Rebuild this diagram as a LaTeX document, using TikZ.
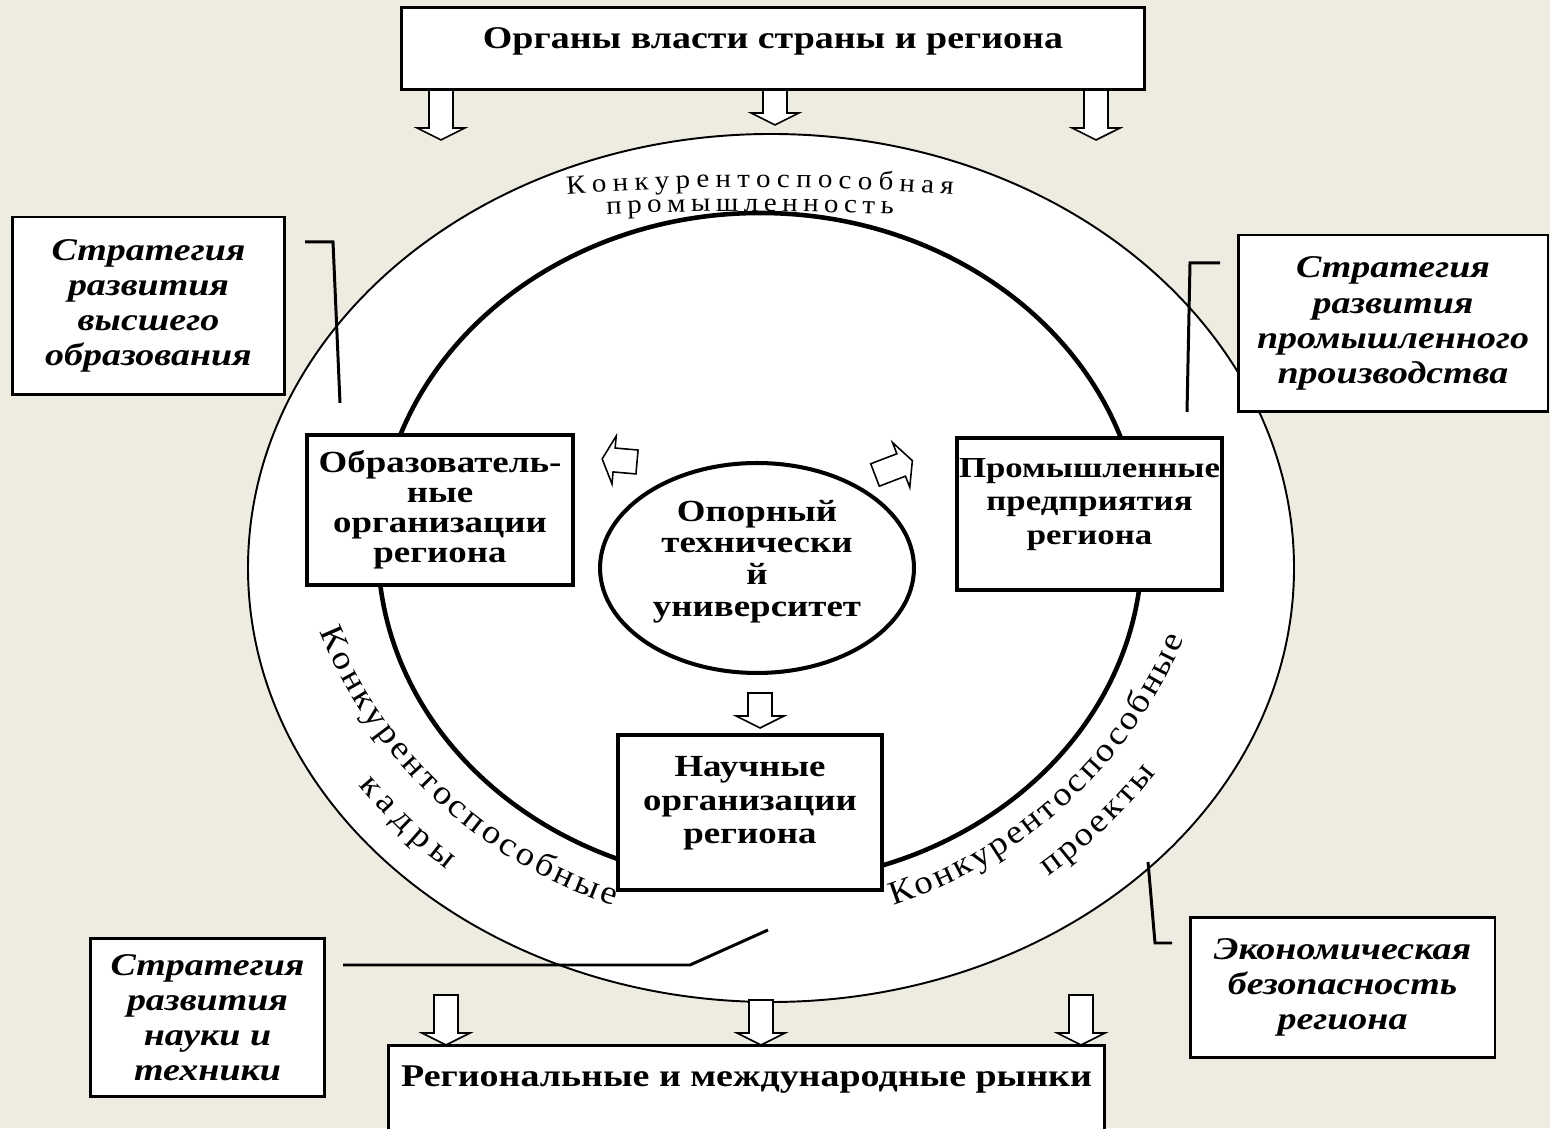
\documentclass[tikz,border=0pt]{standalone}
\usepackage{fontspec}
\setmainfont{Liberation Serif}
\newfontfamily\boxfont[FakeStretch=1.2]{Liberation Serif}
\newfontfamily\arcfont[FakeStretch=1.1]{Liberation Serif}
\newcommand\topfont{\arcfont\fontsize{15}{15}\selectfont}
\newcommand\sidefont{\arcfont\fontsize{19}{19}\selectfont}
\usetikzlibrary{shapes.geometric,decorations.text}
\definecolor{paper}{RGB}{238,236,225}

\begin{document}
\begin{tikzpicture}[x=0.02cm,y=0.02cm,
	box/.style={draw,fill=white,line width=2.3pt,inner sep=0pt,align=center,font=\boxfont\bfseries\fontsize{17.5}{17}\selectfont},
	strat/.style={draw,fill=white,line width=1.7pt,inner sep=0pt,align=center,font=\boxfont\bfseries\itshape\fontsize{18}{20}\selectfont},
	bar/.style={draw,fill=white,line width=1.7pt,inner sep=0pt,font=\boxfont\bfseries\fontsize{18}{20}\selectfont},
	link/.style={line width=1.7pt},
	curve/.style={decorate,decoration={text along path,text align={fit to path},text={#1}}},
	pics/blk/.style={code={\draw[line width=0.9pt,fill=white] (0,-12) -- (#1-12,-12) -- (#1-12,-24) -- (#1,0) -- (#1-12,24) -- (#1-12,12) -- (0,12) -- cycle;}}]
		\useasboundingbox (0,0) rectangle (1550,1128);
		\clip (0,0) rectangle (1550,1128);
		\fill[paper] (0,0) rectangle (1550,1128);
		\draw[fill=white,line width=1.1pt] (771,560) ellipse [x radius=523,y radius=434];
		\draw[line width=2.6pt] (760,580) ellipse [x radius=382,y radius=335];
		\path[curve={|\topfont|Конкурентоспособная}] (760,-1559) ++(94.43:2500) arc[start angle=94.43,end angle=85.57,radius=2500];
		\path[curve={|\topfont|промышленность}] (750,-2083) ++(92.74:3000) arc[start angle=92.74,end angle=87.26,radius=3000];
		\path[curve={|\sidefont|Конкурентоспособные}] (761,675) ++(202:476) arc[start angle=202,end angle=252,radius=476];
		\path[curve={|\sidefont|кадры}] (761,675) ++(219.5:522) arc[start angle=219.5,end angle=233,radius=522];
		\path[curve={|\sidefont|Конкурентоспособные}] (746,675) ++(288:476) arc[start angle=288,end angle=337,radius=476];
		\path[curve={|\sidefont|проекты}] (746,675) ++(305.5:520) arc[start angle=305.5,end angle=322,radius=520];
		\coordinate (eduA) at (305,886);
		\coordinate (eduB) at (333,886);
		\coordinate (eduC) at (340,725);
		\coordinate (indA) at (1220,865);
		\coordinate (indB) at (1190,865);
		\coordinate (indC) at (1187,716);
		\coordinate (sciA) at (343,163);
		\coordinate (sciB) at (690,163);
		\coordinate (sciC) at (768,198);
		\coordinate (ecoA) at (1148,266);
		\coordinate (ecoB) at (1155,185);
		\coordinate (ecoC) at (1172,185);
		\draw[link] (eduA) -- (eduB) -- (eduC);
		\draw[link] (indA) -- (indB) -- (indC);
		\draw[link] (sciA) -- (sciB) -- (sciC);
		\draw[link] (ecoA) -- (ecoB) -- (ecoC);
		\node[bar,minimum width=14.88cm,minimum height=1.64cm,text depth=0.42cm] (gov) at (773,1079) {Органы власти страны и региона};
		\node[bar,minimum width=14.34cm,minimum height=1.8cm,text depth=0.56cm] (market) at (746.5,38) {Региональные и международные рынки};
		\node[strat,minimum width=5.46cm,minimum height=3.56cm] (stratedu) at (148.5,822) {Стратегия\\развития\\высшего\\образования};
		\node[strat,minimum width=6.2cm,minimum height=3.54cm] (stratind) at (1393,804.5) {Стратегия\\развития\\промышленного\\производства};
		\node[strat,minimum width=4.7cm,minimum height=3.18cm] (stratsci) at (207.5,110.5) {Стратегия\\развития\\науки и\\техники};
		\node[strat,minimum width=6.1cm,minimum height=2.82cm] (econ) at (1342.5,140.5) {Экономическая\\безопасность\\региона};
		\node[box,minimum width=5.32cm,minimum height=3cm] (obr) at (440,618) {Образователь-\\ные\\организации\\региона};
		\node[box,minimum width=5.3cm,minimum height=3.04cm,font=\boxfont\bfseries\fontsize{16.5}{19}\selectfont,text depth=0.5cm] (prom) at (1089.5,614) {Промышленные\\предприятия\\региона};
		\node[box,minimum width=5.28cm,minimum height=3.1cm,font=\boxfont\bfseries\fontsize{17.5}{19}\selectfont,text depth=0.5cm] (nauch) at (750,315.5) {Научные\\организации\\региона};
		\node[box,ellipse,minimum width=6.28cm,minimum height=4.2cm,font=\boxfont\bfseries\fontsize{17.5}{18}\selectfont,text depth=0.4cm] (univ) at (757,560) {Опорный\\технически\\й\\университет};
		\pic[rotate=-90] at (441,1038) {blk=50};
		\pic[rotate=-90] at (775,1038) {blk=35};
		\pic[rotate=-90] at (1096,1038) {blk=50};
		\pic[rotate=-90] at (446,133) {blk=50};
		\pic[rotate=-90] at (761,128) {blk=45};
		\pic[rotate=-90] at (1081,133) {blk=50};
		\pic[rotate=-90] at (760,435) {blk=35};
		\pic[rotate=175] at (637,666) {blk=35};
		\pic[rotate=21] at (875,653) {blk=40};
	\end{tikzpicture}
\end{document}
